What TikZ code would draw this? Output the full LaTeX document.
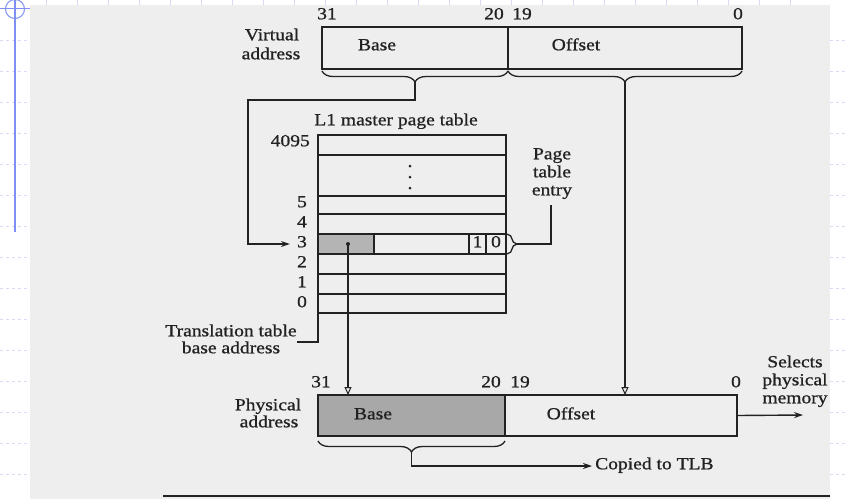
\documentclass[tikz,border=0pt]{standalone}
\usepackage{fontspec}
\setmainfont{Liberation Serif}[FakeStretch=1.15,FakeBold=0.9]
\usetikzlibrary{arrows.meta,decorations.pathreplacing,calc}
\definecolor{ink}{HTML}{222222}
\definecolor{scan}{HTML}{EEEEEE}
\definecolor{shadeA}{HTML}{B4B4B4}
\definecolor{shadeB}{HTML}{A8A8A8}
\definecolor{tmpl}{HTML}{7F90F2}
\definecolor{tmplfaint}{HTML}{D6DCF8}
\begin{document}
\begin{tikzpicture}[x=1pt,y=-1pt,
  cell/.style={draw=ink,line width=1.4pt,inner sep=0pt,outer sep=0pt,anchor=north west},
  lbl/.style={font=\fontsize{17}{19}\selectfont,text=ink,inner sep=0pt,text height=0.66em,text depth=0pt},
  conn/.style={draw=ink,line width=1.4pt},
  bracestyle/.style={draw=ink,line width=1.3pt,decorate,decoration={brace,amplitude=#1}},
  openarrow/.style={-{Triangle[open,length=8pt,width=7pt,line width=1pt]}},
  fillarrow/.style={-{Stealth[length=9pt,width=6pt]}}]
\useasboundingbox (0,0) rectangle (846,499);
% page background
\fill[white] (0,0) rectangle (846,499);
\fill[scan] (30,5) rectangle (830,499);
% slide template marks
\foreach \yy in {40,71,...,474} {
  \draw[tmplfaint,dashed,line width=0.8pt] (0,\yy) -- (30,\yy);
  \draw[tmplfaint,dashed,line width=0.8pt] (830,\yy) -- (846,\yy);
}
\foreach \xx in {46,77,...,820} \draw[tmplfaint,line width=0.8pt] (\xx,0) -- (\xx,5);
\draw[tmpl,line width=1.6pt] (15,0) -- (15,232);
\draw[tmpl,line width=1pt] (0,8) -- (30,8);
\draw[tmpl,line width=1pt] (15,9) circle (9.5);
% bottom rule of the scanned figure
\draw[ink,line width=1.5pt] (163,496) -- (830,496);

% ---------- virtual address ----------
\node[cell,minimum width=186pt,minimum height=42pt] (vbase) at (322,27) {};
\node[cell,minimum width=234pt,minimum height=42pt] (voff) at (508,27) {};
\node[lbl] (vbaset) at (377,47) {Base};
\node[lbl] (vofft) at (576,47) {Offset};
\node[lbl] (v31) at (327,16) {31};
\node[lbl] (v20) at (494,16) {20};
\node[lbl] (v19) at (522,16) {19};
\node[lbl] (v0) at (738,16) {0};
\node[lbl] (vlab1) at (272,37) {Virtual};
\node[lbl] (vlab2) at (271,56) {address};

% ---------- L1 master page table ----------
\node[lbl] (l1t) at (396,122) {L1 master page table};
\node[cell,minimum width=188pt,minimum height=20pt] (r4095) at (318,135) {};
\node[cell,minimum width=188pt,minimum height=41pt] (rdots) at (318,155) {};
\node[cell,minimum width=188pt,minimum height=18pt] (r5) at (318,196) {};
\node[cell,minimum width=188pt,minimum height=20pt] (r4) at (318,214) {};
\node[cell,minimum width=188pt,minimum height=20pt] (r3) at (318,234) {};
\node[cell,minimum width=188pt,minimum height=20pt] (r2) at (318,254) {};
\node[cell,minimum width=188pt,minimum height=20pt] (r1) at (318,274) {};
\node[cell,minimum width=188pt,minimum height=19pt] (r0) at (318,294) {};
\node[cell,fill=shadeA,minimum width=56pt,minimum height=20pt] (r3base) at (318,234) {};
\node[cell,minimum width=17pt,minimum height=20pt] (c1) at (469,234) {};
\node[cell,minimum width=20pt,minimum height=20pt] (c0) at (486,234) {};
\node[lbl] (c1t) at (c1.center) {1};
\node[lbl] (c0t) at (c0.center) {0};
\foreach \yy in {166,177,188} \fill[ink] (410,\yy) circle (1.5);
\node[lbl,anchor=east] (n4095) at (310,143) {4095};
\node[lbl] (n5) at (302,204) {5};
\node[lbl] (n4) at (302,224) {4};
\node[lbl] (n3) at (302,244) {3};
\node[lbl] (n2) at (302,264) {2};
\node[lbl] (n1) at (302,284) {1};
\node[lbl] (n0) at (302,304) {0};

% page table entry
\node[lbl] (pte1) at (552,156) {Page};
\node[lbl] (pte2) at (552,174) {table};
\node[lbl] (pte3) at (552,192) {entry};
\coordinate (pteend) at (551,205);
\draw[bracestyle=10pt] (507,234) -- (507,254);
\coordinate (r3tip) at (517,244);
\draw[conn] (r3tip) -| (pteend);

% translation table base address
\node[lbl] (tt1) at (231,333) {Translation table};
\node[lbl] (tt2) at (231,350) {base address};
\coordinate (ttend) at (297,342);
\draw[conn] (ttend) -| (r0.south west);

% ---------- physical address ----------
\node[cell,fill=shadeB,minimum width=187pt,minimum height=41pt] (pbase) at (318,395) {};
\node[cell,minimum width=232pt,minimum height=41pt] (poff) at (505,395) {};
\node[lbl] (pbaset) at (373,416) {Base};
\node[lbl] (pofft) at (571,416) {Offset};
\node[lbl] (p31) at (321,384) {31};
\node[lbl] (p20) at (491,384) {20};
\node[lbl] (p19) at (520,384) {19};
\node[lbl] (p0) at (736,384) {0};
\node[lbl] (plab1) at (268,407) {Physical};
\node[lbl] (plab2) at (269,424) {address};
\node[lbl] (sel1) at (795,364) {Selects};
\node[lbl] (sel2) at (795,382) {physical};
\node[lbl] (sel3) at (795,400) {memory};
\coordinate (selend) at (803,415);
\node[lbl,anchor=west] (tlb) at (595,466) {Copied to TLB};

% ---------- braces and connectors ----------
\draw[bracestyle=11pt] ($(vbase.south east)+(0,2)$) -- ($(vbase.south west)+(0,2)$);
\draw[bracestyle=11pt] ($(voff.south east)+(0,2)$) -- ($(voff.south west)+(0,2)$);
\coordinate (vbtip) at ($(vbase.south)+(0,13)$);
\coordinate (vofftip) at ($(voff.south)+(0,13)$);
\coordinate (bend1) at (248,100);
\draw[conn,fillarrow,shorten >=7pt] (vbtip) |- (bend1) |- (n3.west);
\draw[conn,openarrow] (vofftip) -- (vofftip |- poff.north);

\coordinate (shdot) at (348,244);
\fill[ink] (shdot) circle (2);
\draw[conn,line width=1.6pt,openarrow] (shdot) -- (shdot |- pbase.north);

\draw[conn,fillarrow] (poff.east) -- (selend);

\draw[bracestyle=11pt] ($(pbase.south east)+(0,5)$) -- ($(pbase.south west)+(0,5)$);
\coordinate (pbtip) at ($(pbase.south)+(0,16)$);
\draw[conn,fillarrow,shorten >=3pt] (pbtip) |- (tlb.west);
\end{tikzpicture}
\end{document}
